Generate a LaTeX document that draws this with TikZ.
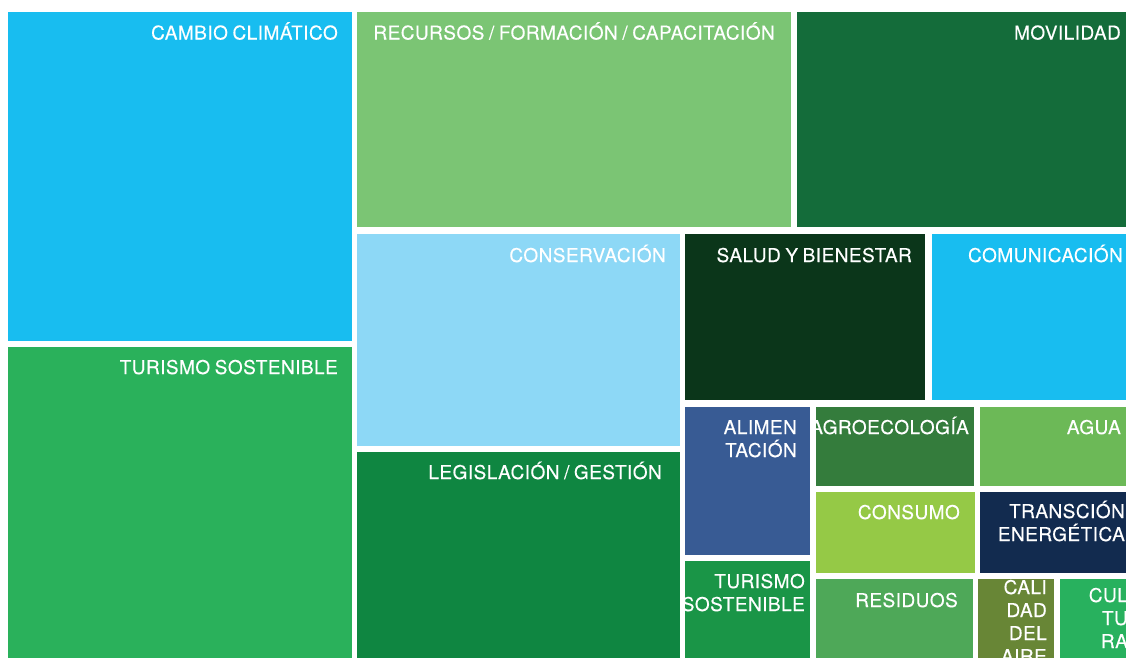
\documentclass[tikz,border=0pt]{standalone}
\usepackage{fontspec}
\setmainfont[LetterSpace=2.5,WordSpace=0.8,FakeBold=0.3]{TeX Gyre Heros}
\usepackage{tikz}
\usetikzlibrary{positioning}
\definecolor{cyanA}{HTML}{18BDF0}
\definecolor{greenRec}{HTML}{7BC574}
\definecolor{greenMov}{HTML}{146C3A}
\definecolor{greenTur}{HTML}{2AB15B}
\definecolor{blueCon}{HTML}{8DD8F6}
\definecolor{greenSal}{HTML}{0B361A}
\definecolor{greenLeg}{HTML}{0F8641}
\definecolor{blueAli}{HTML}{385B94}
\definecolor{greenAgro}{HTML}{347C3C}
\definecolor{greenAgua}{HTML}{6CB957}
\definecolor{greenCons}{HTML}{95C946}
\definecolor{navyTran}{HTML}{122B4F}
\definecolor{greenTs}{HTML}{1A9547}
\definecolor{greenRes}{HTML}{4EA858}
\definecolor{oliveCal}{HTML}{688636}
\definecolor{greenCul}{HTML}{28B15E}
\tikzset{lbl/.style={anchor=base east,inner sep=0pt,text=white,align=right,
font=\fontsize{19}{23}\selectfont}}

\begin{document}
\begin{tikzpicture}[x=1pt,y=-1pt]
		\useasboundingbox (0,0) rectangle (1126,657);
		\clip (0,0) rectangle (1126,657);

		% tiles
		\fill[cyanA]     (8,12)    rectangle (352,341);
		\fill[greenRec]  (357,12)  rectangle (791,227);
		\fill[greenMov]  (797,12)  rectangle (1140,227);
		\fill[greenTur]  (8,347)   rectangle (352,660);
		\fill[blueCon]   (357,234) rectangle (680,446);
		\fill[greenSal]  (685,234) rectangle (925,400);
		\fill[cyanA]     (932,234) rectangle (1140,400);
		\fill[greenLeg]  (357,452) rectangle (680,660);
		\fill[blueAli]   (685,407) rectangle (810,555);
		\fill[greenAgro] (816,407) rectangle (974,486);
		\fill[greenAgua] (980,407) rectangle (1140,486);
		\fill[greenCons] (816,492) rectangle (975,573);
		\fill[navyTran]  (980,492) rectangle (1140,573);
		\fill[greenTs]   (685,561) rectangle (810,660);
		\fill[greenRes]  (816,579) rectangle (973,660);
		\fill[oliveCal]  (978,579) rectangle (1054,660);
		\fill[greenCul]  (1060,579) rectangle (1140,660);

		% labels (base = last line)
		\begin{scope}[every node/.style={lbl}]
			\node (cc)   at (338,39.5)  {CAMBIO CLIMÁTICO};
			\node (rfc)  at (775,39.5)  {RECURSOS / FORMACIÓN / CAPACITACIÓN};
			\node (mov)  at (1121,39.5) {MOVILIDAD};
			\node (tsb)  at (338,374)   {TURISMO SOSTENIBLE};
			\node (con)  at (666,262)   {CONSERVACIÓN};
			\node (sal)  at (912,262)   {SALUD Y BIENESTAR};
			\node (com)  at (1123,262)  {COMUNICACIÓN};
			\node (leg)  at (662,479)   {LEGISLACIÓN / GESTIÓN};
			\node (ali)  at (797,457)   {ALIMEN\\TACIÓN};
			\node (agro) at (969,434)   {AGROECOLOGÍA};
			\node (agua) at (1121,434)  {AGUA};
			\node (cons) at (960,519)   {CONSUMO};
			\node (tran) at (1125,541)  {TRANSCIÓN\\ENERGÉTICA};
			\node (ts)   at (805,611)   {TURISMO\\SOSTENIBLE};
			\node (res)  at (958,607)   {RESIDUOS};
			\node (cal)  at (1047,663)  {CALI\\DAD\\DEL\\AIRE};
			\node (cul)  at (1128,648)  {CUL\\TU\\RA};
		\end{scope}
	\end{tikzpicture}
\end{document}
